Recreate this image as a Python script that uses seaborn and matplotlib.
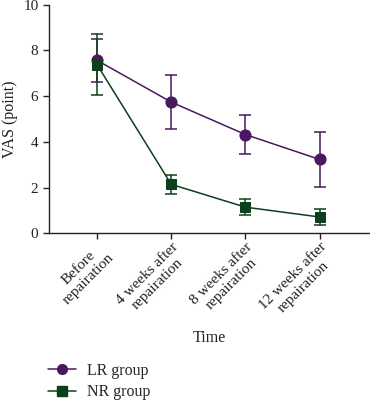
import matplotlib
matplotlib.use("Agg")
import matplotlib.pyplot as plt
import matplotlib.transforms as mtransforms
import seaborn as sns
import pandas as pd
import numpy as np
from matplotlib.lines import Line2D

categories = ["Before\nrepairation", "4 weeks after\nrepairation",
              "8 weeks after\nrepairation", "12 weeks after\nrepairation"]
lr_mean = [7.57, 5.74, 4.32, 3.23]
lr_sd = [0.95, 1.18, 0.87, 1.22]
nr_mean = [7.38, 2.14, 1.14, 0.71]
nr_sd = [1.33, 0.41, 0.35, 0.37]
groups = ["LR group", "NR group"]
colors = ["#4a1760", "#0d3f1c"]
markers = ["o", "s"]

sns.set_theme(style="ticks")
plt.rcParams['font.family'] = ['Liberation Serif', 'DejaVu Serif']

df = pd.DataFrame({
    "x": list(range(4)) * 2,
    "y": lr_mean + nr_mean,
    "sd": lr_sd + nr_sd,
    "group": [groups[0]] * 4 + [groups[1]] * 4,
})

fig = plt.figure(figsize=(3.7, 4.0), dpi=100)
ax = fig.add_axes([0.132, 0.417, 0.868, 0.571])

for g, c, m in zip(groups, colors, markers):
    sub = df[df.group == g]
    ax.errorbar(sub.x, sub.y, yerr=sub.sd, fmt="none", ecolor=c, elinewidth=1.1,
                capsize=4, capthick=1.1, zorder=2)
    sns.lineplot(data=sub, x="x", y="y", color=c, marker=m, markersize=8 if m == "o" else 7,
                 markeredgecolor=c, linewidth=1.1, ax=ax, zorder=3, legend=False)

ax.set_xlim(-0.65, 3.68)
ax.set_ylim(0, 10)
ax.set_yticks([0, 2, 4, 6, 8, 10])
ax.set_xticks(range(4))
ax.set_xticklabels(categories, rotation=45, ha="right", va="top",
                   rotation_mode="anchor", multialignment="center", fontsize=11)
offset = mtransforms.ScaledTranslation(-6 / 100, 0, fig.dpi_scale_trans)
for lab in ax.get_xticklabels():
    lab.set_transform(lab.get_transform() + offset)
ax.tick_params(axis="both", direction="out", length=4, width=1, colors="#222222",
               labelsize=11, labelcolor="#222222")
ax.tick_params(axis="x", pad=1)
ax.set_ylabel("VAS (point)", fontsize=11.5, color="#222222", labelpad=4)
ax.set_xlabel("Time", fontsize=11.5, color="#222222", labelpad=5)
for s in ["top", "right"]:
    ax.spines[s].set_visible(False)
for s in ["left", "bottom"]:
    ax.spines[s].set_linewidth(1)
    ax.spines[s].set_color("#222222")

handles = [Line2D([0], [0], color=c, marker=m, markersize=7, linewidth=1.1)
           for c, m in zip(colors, markers)]
fig.legend(handles, groups, loc="upper left", bbox_to_anchor=(0.107, 0.113),
           frameon=False, fontsize=11.5, handlelength=1.75, handletextpad=0.7,
           labelspacing=0.35, borderpad=0)

fig.savefig("out.png", dpi=100)
